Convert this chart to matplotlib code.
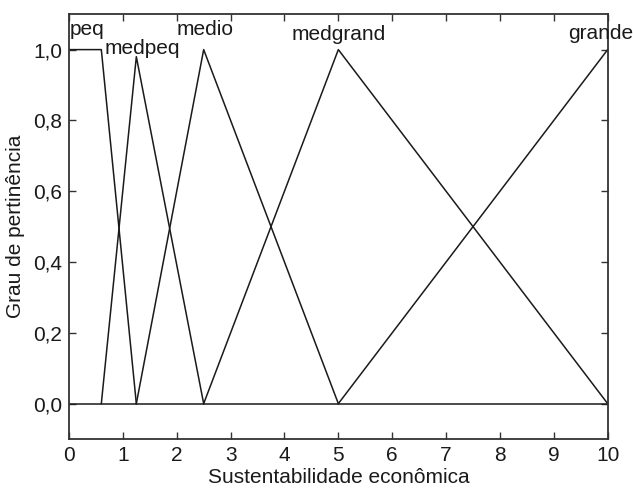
import matplotlib
matplotlib.use('Agg')
import matplotlib.pyplot as plt
import numpy as np

plt.rcParams['font.family'] = ['Liberation Sans', 'DejaVu Sans']

# membership functions (x, y breakpoints)
peq_x = [0, 0.6, 1.25]
peq_y = [1.0, 1.0, 0.0]
medpeq_x = [0.6, 1.25, 2.5]
medpeq_y = [0.0, 0.98, 0.0]
medio_x = [1.25, 2.5, 5.0]
medio_y = [0.0, 1.0, 0.0]
medgrand_x = [2.5, 5.0, 10.0]
medgrand_y = [0.0, 1.0, 0.0]
grande_x = [5.0, 10.0]
grande_y = [0.0, 1.0]

labels = ['peq', 'medpeq', 'medio', 'medgrand', 'grande']
label_x = [0.02, 1.36, 2.53, 5.0, 9.87]
label_y = [1.042, 0.989, 1.04, 1.028, 1.03]

yticks = [0.0, 0.2, 0.4, 0.6, 0.8, 1.0]
ytick_labels = ['0,0', '0,2', '0,4', '0,6', '0,8', '1,0']

fig = plt.figure(figsize=(6.33, 4.90), dpi=100)
ax = fig.add_axes([0.109, 0.104, 0.851, 0.867])

lc = '#1a1a1a'
fs = 15
ax.plot([0, 10], [0, 0], color=lc, lw=1.1)
for xs, ys in [(peq_x, peq_y), (medpeq_x, medpeq_y), (medio_x, medio_y),
               (medgrand_x, medgrand_y), (grande_x, grande_y)]:
    ax.plot(xs, ys, color=lc, lw=1.1)

for t, x, y in zip(labels, label_x, label_y):
    ha = 'left' if t == 'peq' else 'center'
    ax.text(x, y, t, ha=ha, va='baseline', fontsize=fs, color=lc, clip_on=False)

ax.set_xlim(0, 10)
ax.set_ylim(-0.1, 1.1)
ax.set_xticks(range(0, 11))
ax.set_yticks(yticks)
ax.set_yticklabels(ytick_labels)
ax.tick_params(direction='in', top=True, right=True, labelsize=fs, length=5,
               width=1.0, colors='#333333', labelcolor=lc, pad=5)
for s in ax.spines.values():
    s.set_linewidth(1.3)
    s.set_color('#333333')

ax.set_xlabel('Sustentabilidade econômica', fontsize=fs, color=lc, labelpad=2)
ax.set_ylabel('Grau de pertinência', fontsize=fs, color=lc, labelpad=6)

fig.savefig('out.png', dpi=100)
